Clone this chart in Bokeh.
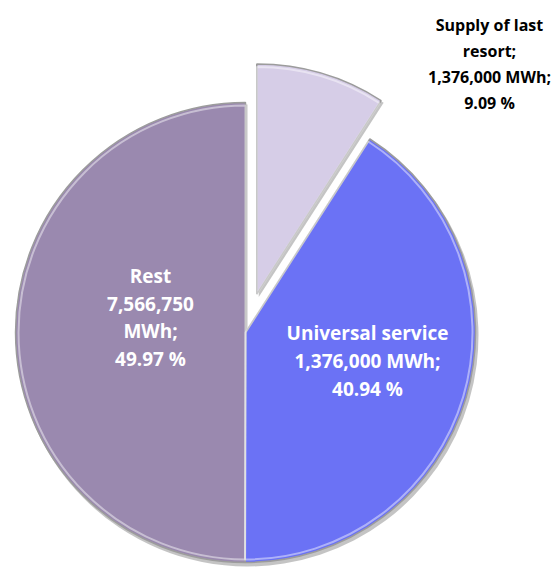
import math
from bokeh.plotting import figure
from bokeh.models import Range1d, ColumnDataSource
from bokeh.core.properties import value
from bokeh.embed import file_html
from bokeh.resources import INLINE

# ---- data ----
categories = ["Supply of last resort", "Universal service", "Rest"]
energy_labels = ["1,376,000 MWh", "1,376,000 MWh", "7,566,750 MWh"]
percents = [9.09, 40.94, 49.97]
colors = ["#D6CDE7", "#6B72F5", "#9A89AF"]
explode = [40, 0, 0]

label_lines = [
    ["Supply of last", "resort;", "1,376,000 MWh;", "9.09 %"],
    ["Universal service", "1,376,000 MWh;", "40.94 %"],
    ["Rest", "7,566,750", "MWh;", "49.97 %"],
]

# ---- layout ----
W, H = 556, 567


def Y(page_y):
    return H - page_y


cx, cy = 245, Y(332)
R = 230

p = figure(width=W, height=H, output_backend="svg", toolbar_location=None,
           x_range=Range1d(0, W), y_range=Range1d(0, H),
           min_border=0, outline_line_color=None)
p.axis.visible = False
p.grid.visible = False
p.background_fill_color = "white"

total = sum(percents)
xs, ys, starts, ends = [], [], [], []
cum = 0.0
for pct, ex in zip(percents, explode):
    a0 = math.pi / 2 - 2 * math.pi * cum / total
    a1 = math.pi / 2 - 2 * math.pi * (cum + pct) / total
    mid = (a0 + a1) / 2
    xs.append(cx + ex * math.cos(mid))
    ys.append(cy + ex * math.sin(mid))
    starts.append(a0)
    ends.append(a1)
    cum += pct

src = ColumnDataSource(dict(x=xs, y=ys, start=starts, end=ends, color=colors,
                            sx=[v + 2 for v in xs], sy=[v - 3 for v in ys]))

# shadow
p.wedge(x="sx", y="sy", radius=R + 1, start_angle="start", end_angle="end",
        direction="clock", source=src, fill_color="#555555", fill_alpha=0.35,
        line_color=None)
# slices
p.wedge(x="x", y="y", radius=R, start_angle="start", end_angle="end",
        direction="clock", source=src, fill_color="color",
        line_color="#9C9C9C", line_width=1.5)
# bevel highlight
p.wedge(x="x", y="y", radius=R - 3, start_angle="start", end_angle="end",
        direction="clock", source=src, fill_color=None,
        line_color="white", line_alpha=0.45, line_width=2)

# labels
anchors = [(489, [24, 50, 76, 102], "#000000", "16px"),
           (367, [332, 360, 388], "#FFFFFF", "19px"),
           (150, [275, 303, 330, 358], "#FFFFFF", "19px")]
for lines, (ax, ays, col, fs) in zip(label_lines, anchors):
    p.text(x=[ax] * len(lines), y=[Y(v) for v in ays], text=lines,
           text_align="center", text_baseline="middle",
           text_font=value("Open Sans"), text_font_style="bold",
           text_font_size=fs, text_color=col)

open("out.html", "w").write(file_html(p, INLINE))
